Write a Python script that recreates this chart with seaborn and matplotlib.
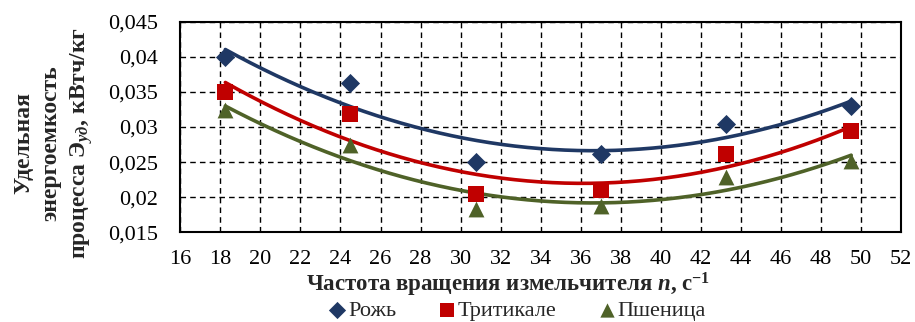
import numpy as np
import pandas as pd
import matplotlib
matplotlib.use("Agg")
import matplotlib.pyplot as plt
import seaborn as sns
from matplotlib.ticker import FuncFormatter, MultipleLocator

# частота вращения, c^-1
n = [18.25, 24.5, 30.75, 37.0, 43.25, 49.5]
rye = [0.0400, 0.0363, 0.0250, 0.0262, 0.0304, 0.0330]
triticale = [0.0350, 0.0319, 0.0204, 0.0210, 0.0262, 0.0295]
wheat = [0.0324, 0.0274, 0.0183, 0.0187, 0.0229, 0.0252]

names = ["Рожь", "Тритикале", "Пшеница"]
colors = ["#1F3864", "#C00000", "#4F6228"]
markers = ["D", "s", "^"]
sizes = [95, 140, 130]

sns.set_style("white")
plt.rcParams['font.family'] = ['Liberation Serif', 'DejaVu Serif']
plt.rcParams['mathtext.fontset'] = 'custom'
plt.rcParams['mathtext.rm'] = 'Liberation Serif:bold'
plt.rcParams['mathtext.it'] = 'Liberation Serif:italic:bold'
plt.rcParams['mathtext.bf'] = 'Liberation Serif:bold'

fig = plt.figure(figsize=(9.15, 3.22), dpi=100)
ax = fig.add_axes([0.197, 0.279, 0.788, 0.653])

for vals, name, c, m, s in zip([rye, triticale, wheat], names, colors, markers, sizes):
    df = pd.DataFrame({"n": n, "E": vals})
    # полиномиальный тренд 2-й степени
    coef = np.polyfit(df["n"], df["E"], 2)
    xs = np.linspace(min(n), max(n), 200)
    ax.plot(xs, np.polyval(coef, xs), color=c, lw=2.6, zorder=2)
    sns.scatterplot(data=df, x="n", y="E", marker=m, s=s, color=c,
                    edgecolor=c, linewidth=0, ax=ax, label=name, zorder=3)

ax.set_xlim(16, 52)
ax.set_ylim(0.015, 0.045)
ax.xaxis.set_major_locator(MultipleLocator(2))
ax.yaxis.set_major_locator(MultipleLocator(0.005))
ax.yaxis.set_major_formatter(FuncFormatter(lambda v, p: f"{v:g}".replace('.', ',')))
ax.grid(True, color='black', linestyle=(0, (4, 3)), linewidth=1.0)
for sp in ax.spines.values():
    sp.set_color('black')
    sp.set_linewidth(1.5)
ax.tick_params(length=0, labelsize=16, colors='black')
ax.tick_params(axis='y', pad=16)
ax.tick_params(axis='x', pad=13)

ax.set_xlabel("Частота вращения измельчителя $\\mathit{n}$, с$^{-1}$",
              fontsize=16.5, fontweight='bold')
ax.xaxis.set_label_coords(0.454, -0.185)
ax.set_ylabel("Удельная\nэнергоемкость\nпроцесса Э$_{\\mathit{уд}}$, кВтч/кг",
              fontsize=17, fontweight='bold', linespacing=1.4,
              multialignment='center')
ax.yaxis.set_label_coords(-0.118, 0.425)

ax.get_legend().remove()
h, l = ax.get_legend_handles_labels()
fig.legend(h, l, loc='center', bbox_to_anchor=(0.566, 0.034), ncol=3,
           frameon=False, fontsize=16, handlelength=0.7, handletextpad=0.15,
           columnspacing=1.9, markerscale=0.9, borderpad=0)

fig.savefig("out.png", dpi=100)
